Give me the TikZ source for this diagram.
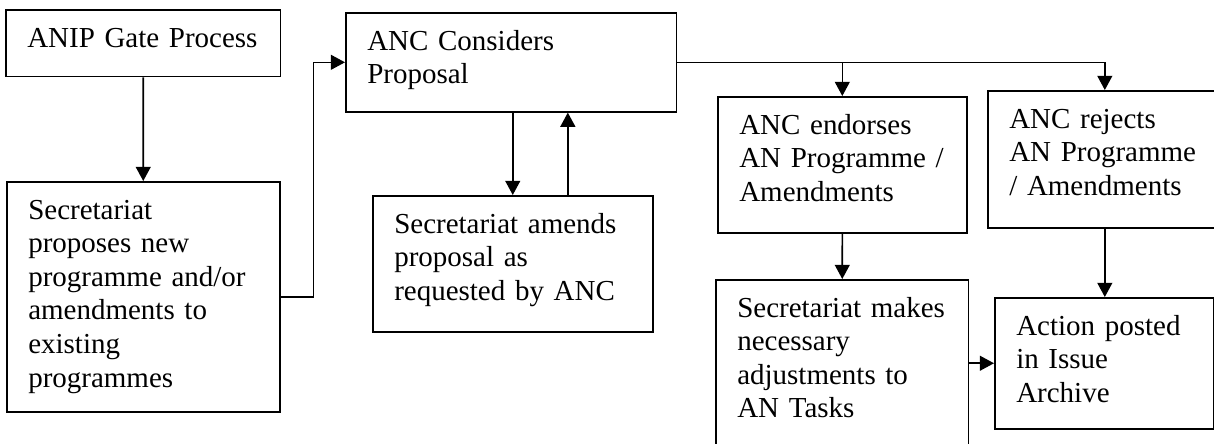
\documentclass[tikz,border=0pt]{standalone}
\usepackage{fontspec}
\setmainfont{Liberation Serif}
\usetikzlibrary{arrows.meta}

\begin{document}
\begin{tikzpicture}[
  x=0.414pt, y=-0.414pt,
  box/.style 2 args={draw, line width=0.65pt, anchor=north west, align=left,
    text width=#1, text height=15.5pt, text depth=#2, inner xsep=8.9pt,
    inner ysep=0pt, font=\fontsize{12pt}{13.9pt}\selectfont},
  flow/.style={-{Triangle[length=5.9pt, width=6.2pt]}, line width=0.65pt}
]
\useasboundingbox (0,0) rectangle (1214,443);
\node[box={96pt}{12.2pt}] (anip) at (5,9) {ANIP Gate Process};
\node[box={95.2pt}{79.7pt}] (propose) at (6,181) {Secretariat\\proposes new\\programme and/or\\amendments to\\existing\\programmes};
\node[box={119.2pt}{25.5pt}] (consider) at (345,12) {ANC Considers\\Proposal};
\node[box={98.1pt}{40.8pt}] (amend) at (372,195) {Secretariat amends\\proposal as\\requested by ANC};
\node[box={85.3pt}{40.8pt}] (endorse) at (717,96) {ANC endorses\\AN Programme /\\Amendments};
\node[box={79.1pt}{41.2pt}] (reject) at (987,90) {ANC rejects\\AN Programme\\/ Amendments};
\node[box={86.9pt}{57.4pt}] (adjust) at (715,279) {Secretariat makes\\necessary\\adjustments to\\AN Tasks};
\node[box={72.9pt}{38.7pt}] (archive) at (994,297) {Action posted\\in Issue\\Archive};
\coordinate (back) at ([xshift=22.8pt]amend.north);
\draw[flow] (anip) -- (propose);
\draw[flow] (propose.east) -- ++(33,0) |- (consider.west);
\draw[flow] (consider.south -| amend.north) -- (amend.north);
\draw[flow] (back) -- (back |- consider.south);
\draw[flow] (consider.east) -| (endorse);
\draw[flow] (consider.east) -| (reject);
\draw[flow] (endorse) -- (adjust);
\draw[flow] (reject.south) -- (reject.south |- archive.north);
\draw[flow] (adjust.east |- archive.west) -- (archive.west);
\end{tikzpicture}
\end{document}
